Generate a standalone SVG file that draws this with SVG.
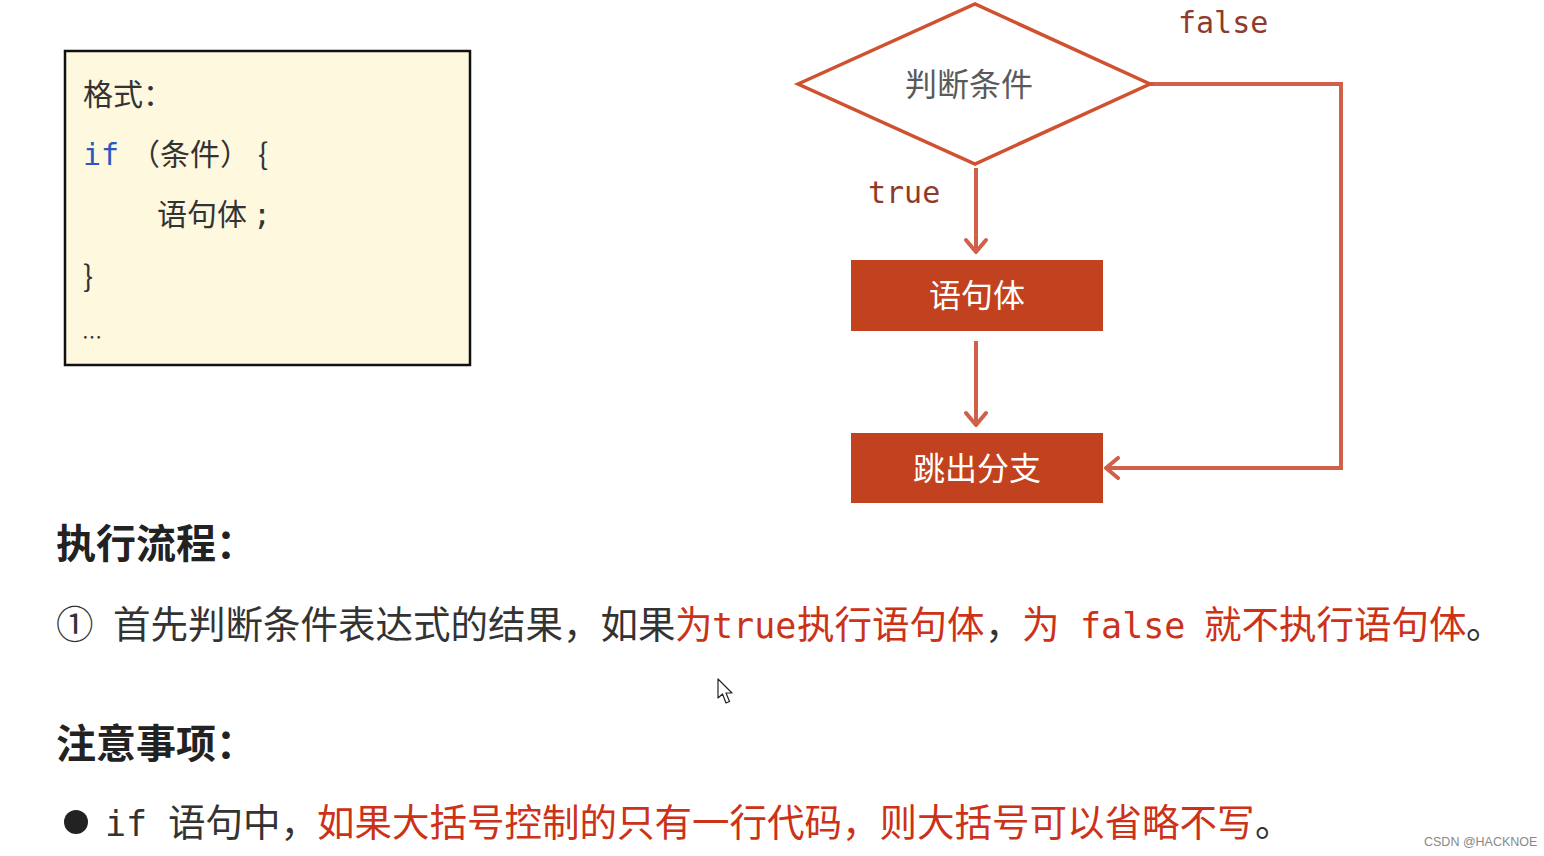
<svg xmlns="http://www.w3.org/2000/svg" width="1544" height="856" viewBox="0 0 1544 856">
<style>
.cjk{font-family:"Noto Sans CJK SC","Noto Sans",sans-serif}
.mono{font-family:"DejaVu Sans Mono","Liberation Mono",monospace}
.dark{fill:#333}
.red{fill:#CC3218}
.lbl{fill:#8E3B2C;font-size:30px}
.boxtxt{fill:#fff;font-size:32px;text-anchor:middle}
.conn{fill:none;stroke:#D0604A;stroke-width:4}
.fbox{fill:#C2411F}
</style>
<defs>
<marker id="arr" viewBox="0 0 24 24" refX="21" refY="12" markerWidth="24" markerHeight="24" markerUnits="userSpaceOnUse" orient="auto">
<path d="M9,2 L21,12 L9,22" fill="none" stroke="#D0604A" stroke-width="4" stroke-linecap="round" stroke-linejoin="round"/>
</marker>
</defs>
<rect width="1544" height="856" fill="#fff"/>

<g id="format-box">
<rect x="65" y="51" width="405" height="314" fill="#FEF8DF" stroke="#111" stroke-width="2.5"/>
<text x="83" y="105" class="cjk dark" font-size="30">格式：</text>
<text y="165" font-size="30"><tspan x="83" class="mono" fill="#2A58C0">if</tspan><tspan x="130" class="cjk dark">（条件）</tspan><tspan x="258" class="cjk dark">{</tspan></text>
<text y="225" font-size="30"><tspan x="157" class="cjk dark">语句体</tspan><tspan x="253" class="mono dark">;</tspan></text>
<text x="83" y="287" class="cjk dark" font-size="30">}</text>
<text x="82" y="345" class="cjk dark" font-size="20">…</text>
</g>

<g id="connectors">
<line x1="976" y1="168" x2="976" y2="252" class="conn" marker-end="url(#arr)"/>
<line x1="976" y1="341" x2="976" y2="425" class="conn" marker-end="url(#arr)"/>
<path d="M1150,84 H1341 V468 H1106" class="conn" marker-end="url(#arr)"/>
<text x="868" y="203" class="mono lbl">true</text>
<text x="1178" y="33" class="mono lbl">false</text>
</g>

<g id="node-condition">
<polygon points="798,84 975,4 1150,84 975,164" fill="#fff" stroke="#D0512F" stroke-width="3.5" stroke-linejoin="miter"/>
<text x="969" y="96" class="cjk" font-size="32" fill="#5a5a5a" text-anchor="middle">判断条件</text>
</g>

<g id="node-body">
<rect x="851" y="260" width="252" height="71" class="fbox"/>
<text x="977" y="307" class="cjk boxtxt">语句体</text>
</g>

<g id="node-exit">
<rect x="851" y="433" width="252" height="70" class="fbox"/>
<text x="977" y="480" class="cjk boxtxt">跳出分支</text>
</g>

<g id="text-flow">
<text x="56" y="558" class="cjk" fill="#222" font-size="40" font-weight="bold">执行流程：</text>
<text y="638" font-size="37.5">
<tspan x="56" class="cjk dark">①</tspan>
<tspan x="113" class="cjk dark">首先判断条件表达式的结果，如果</tspan>
<tspan x="675" class="cjk red">为</tspan>
<tspan x="712" class="mono red" font-size="35">true</tspan>
<tspan x="797" class="cjk red">执行语句体</tspan>
<tspan x="985" class="cjk dark">，</tspan>
<tspan x="1022" class="cjk red">为</tspan>
<tspan x="1080" class="mono red" font-size="35">false</tspan>
<tspan x="1204" class="cjk red">就不执行语句体</tspan>
<tspan x="1466" class="cjk dark">。</tspan>
</text>
</g>

<g id="text-notes">
<text x="56" y="758" class="cjk" fill="#222" font-size="40" font-weight="bold">注意事项：</text>
<circle cx="76" cy="822" r="12" fill="#222"/>
<text y="836" font-size="37.5">
<tspan x="105" class="mono dark" font-size="35">if</tspan>
<tspan x="168" class="cjk dark">语句中，</tspan>
<tspan x="317" class="cjk red">如果大括号控制的只有一行代码，则大括号可以省略不写</tspan>
<tspan x="1255" class="cjk dark">。</tspan>
</text>
</g>

<g id="cursor">
<polygon points="718,679 718,698 722.5,694 726,703 729.5,701.5 726,693 732,693" fill="#fff" stroke="#222" stroke-width="1.2" stroke-linejoin="round"/>
</g>

<text x="1424" y="846" font-family="Liberation Sans, sans-serif" font-size="12.5" fill="#888">CSDN @HACKNOE</text>
</svg>
